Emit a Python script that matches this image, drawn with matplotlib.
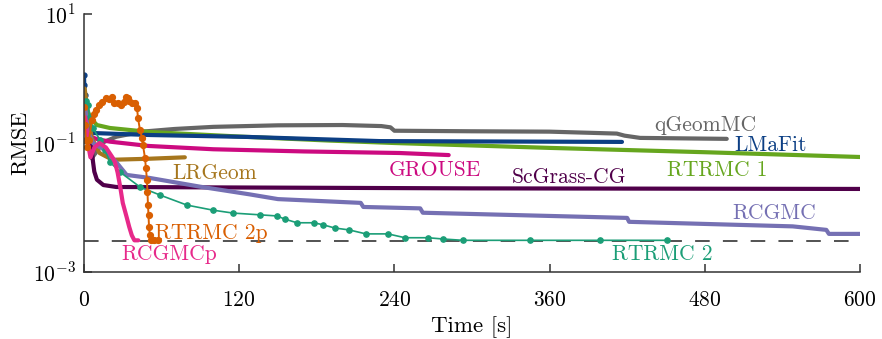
import matplotlib
matplotlib.use("Agg")
import matplotlib.pyplot as plt

plt.rcParams["font.family"] = "serif"
plt.rcParams["font.serif"] = ["cmr10", "DejaVu Serif"]
plt.rcParams["mathtext.fontset"] = "cm"
plt.rcParams["axes.formatter.use_mathtext"] = True
plt.rcParams["lines.scale_dashes"] = False

# ---- data: time [s] and RMSE per solver ----
qgeom_t = [6, 9, 12, 16, 25, 45, 70, 100, 150, 200, 230, 237, 240, 300, 360, 412, 418, 430, 497]
qgeom_v = [0.058, 0.07, 0.09, 0.105, 0.125, 0.15, 0.165, 0.178, 0.188, 0.19, 0.183, 0.175, 0.155,
           0.152, 0.15, 0.140, 0.130, 0.120, 0.116]

lmafit_t = [0, 0.23, 0.46, 0.77, 1.16, 1.55, 3.1, 6.2, 51, 128, 229, 416]
lmafit_v = [1.13, 0.79, 0.555, 0.388, 0.272, 0.19, 0.153, 0.143, 0.133, 0.124, 0.107, 0.104]

rtrmc1_t = [2, 5, 10, 20, 51, 120, 190, 240, 360, 480, 600]
rtrmc1_v = [0.349, 0.244, 0.19, 0.171, 0.148, 0.126, 0.109, 0.100, 0.084, 0.072, 0.0607]

grouse_t = [1, 3, 10, 20, 50, 100, 170, 244, 282]
grouse_v = [0.2, 0.13, 0.115, 0.105, 0.09, 0.08, 0.074, 0.070, 0.065]

lrgeom_t = [0.5, 3, 6, 12, 22, 50, 78]
lrgeom_v = [0.7, 0.3, 0.12, 0.07, 0.055, 0.057, 0.06]

scgrass_t = [1, 4, 6, 7, 8, 10, 15, 25, 100, 300, 600]
scgrass_v = [0.25, 0.12, 0.078, 0.051, 0.036, 0.027, 0.0223, 0.0208, 0.0205, 0.0198, 0.0194]

rcgmc_t = [1, 3, 7, 16, 25.5, 33, 51, 90, 128, 150, 214, 216, 260, 262, 420, 421.5, 548, 574, 576, 600]
rcgmc_v = [0.35, 0.15, 0.1, 0.078, 0.049, 0.032, 0.0287, 0.021, 0.016, 0.0135, 0.0118, 0.0102,
           0.0097, 0.0083, 0.0069, 0.006, 0.0051, 0.0045, 0.0039, 0.0039]

rtrmc2_t = [1.5, 3.1, 4.5, 7, 12.4, 16.2, 20.1, 27.8, 43.3, 58.8, 79.6, 99.7, 115.2, 136.1, 149.2,
            155.4, 164.7, 177.8, 184.8, 194.1, 204.9, 218, 235.1, 248.2, 266, 277.6, 293, 344.9,
            398.9, 450.8]
rtrmc2_v = [0.45, 0.39, 0.25, 0.171, 0.111, 0.078, 0.0507, 0.0355, 0.0208, 0.0156, 0.0109, 0.0091,
            0.0082, 0.0077, 0.0074, 0.0066, 0.0058, 0.0058, 0.0054, 0.0048, 0.0045, 0.0039, 0.0039,
            0.0034, 0.0034, 0.00325, 0.0031, 0.0031, 0.0031, 0.0031]

rcgmcp_t = [1, 3, 5, 8, 12, 17, 22, 24, 26, 28, 30, 33, 35, 37, 39, 42]
rcgmcp_v = [0.25, 0.1, 0.06, 0.085, 0.1, 0.085, 0.06, 0.05, 0.035, 0.021, 0.0118, 0.0071, 0.005,
            0.0037, 0.0031, 0.0031]

rtrmc2p_t = [0, 0.77, 1.55, 2.32, 3.87, 6.19, 7.73, 9.28, 11.6, 13.9, 17.0, 19.3, 21.7, 23.2, 26.3,
             28.6, 30.9, 32.5, 34.0, 34.8, 37.1, 39.4, 41.0, 41.8, 43.3, 44.9, 45.6, 47.2, 47.9,
             48.7, 49.1, 49.5, 49.9, 50.3, 51.0, 51.8, 54.1, 57.2]
rtrmc2p_v = [0.361, 0.19, 0.111, 0.0867, 0.111, 0.228, 0.282, 0.325, 0.388, 0.433, 0.499, 0.481,
             0.516, 0.417, 0.417, 0.388, 0.433, 0.516, 0.499, 0.448, 0.417, 0.417, 0.349, 0.244,
             0.159, 0.120, 0.093, 0.0585, 0.041, 0.0267, 0.0174, 0.0109, 0.0077, 0.0050, 0.0037,
             0.0031, 0.0031, 0.0031]

target_rmse = 3e-3

labels = [
    ("qGeomMC", 441, 0.19, "#666666"),
    ("LMaFit", 503, 0.093, "#0c3f84"),
    ("RTRMC 1", 451, 0.038, "#66a61e"),
    ("GROUSE", 236, 0.038, "#cc0a80"),
    ("ScGrass-CG", 331, 0.0297, "#50004a"),
    ("LRGeom", 68, 0.0343, "#a6761d"),
    ("RCGMC", 501, 0.0082, "#7570b3"),
    ("RTRMC 2p", 55, 0.0040, "#d95f02"),
    ("RCGMCp", 29, 0.0019, "#e7298a"),
    ("RTRMC 2", 408, 0.0019, "#1b9e77"),
]

fig = plt.figure(figsize=(8.82, 3.39), dpi=100)
ax = fig.add_axes([0.0952, 0.1976, 0.8798, 0.7611])

thick = dict(lw=3.0, solid_capstyle="round", solid_joinstyle="round")
ax.plot(qgeom_t, qgeom_v, color="#666666", **thick)
ax.plot(rtrmc1_t, rtrmc1_v, color="#66a61e", **thick)
ax.plot(lmafit_t, lmafit_v, color="#0c3f84", marker="o", ms=3.5, markevery=list(range(7)), **thick)
ax.plot(grouse_t, grouse_v, color="#cc0a80", **thick)
ax.plot(lrgeom_t, lrgeom_v, color="#a6761d", **thick)
ax.plot(scgrass_t, scgrass_v, color="#50004a", **thick)
ax.plot(rcgmc_t, rcgmc_v, color="#7570b3", **thick)
ax.plot(rtrmc2_t, rtrmc2_v, color="#1b9e77", lw=1.2, marker="o", ms=3.8)
ax.plot(rcgmcp_t, rcgmcp_v, color="#e7298a", **thick)
ax.plot(rtrmc2p_t, rtrmc2p_v, color="#d95f02", lw=1.4, marker="o", ms=4.2)

ax.axhline(target_rmse, color="#444444", lw=1.3, dashes=(10.5, 9.5), zorder=0.5)

for text, tx, ty, col in labels:
    ax.text(tx, ty, text, color=col, fontsize=15.5, ha="left", va="center")

ax.set_yscale("log")
ax.set_xlim(0, 600)
ax.set_ylim(1e-3, 10)
ax.set_xticks([0, 120, 240, 360, 480, 600])
ax.set_yticks([10, 0.1, 1e-3])
ax.set_yticklabels([r"$10^{1}$", r"$10^{-1}$", r"$10^{-3}$"])
ax.minorticks_off()
ax.tick_params(direction="in", length=6, width=1.1, labelsize=15.5, color="#333333")
ax.tick_params(axis="x", pad=13)
ax.tick_params(axis="y", pad=6)
for side in ("top", "right"):
    ax.spines[side].set_visible(False)
for side in ("left", "bottom"):
    ax.spines[side].set_color("#333333")
    ax.spines[side].set_linewidth(1.1)

ax.set_xlabel("Time [s]", fontsize=16.5, labelpad=5)
ax.set_ylabel("RMSE", fontsize=16, labelpad=2)

fig.savefig("out.png", dpi=100)
